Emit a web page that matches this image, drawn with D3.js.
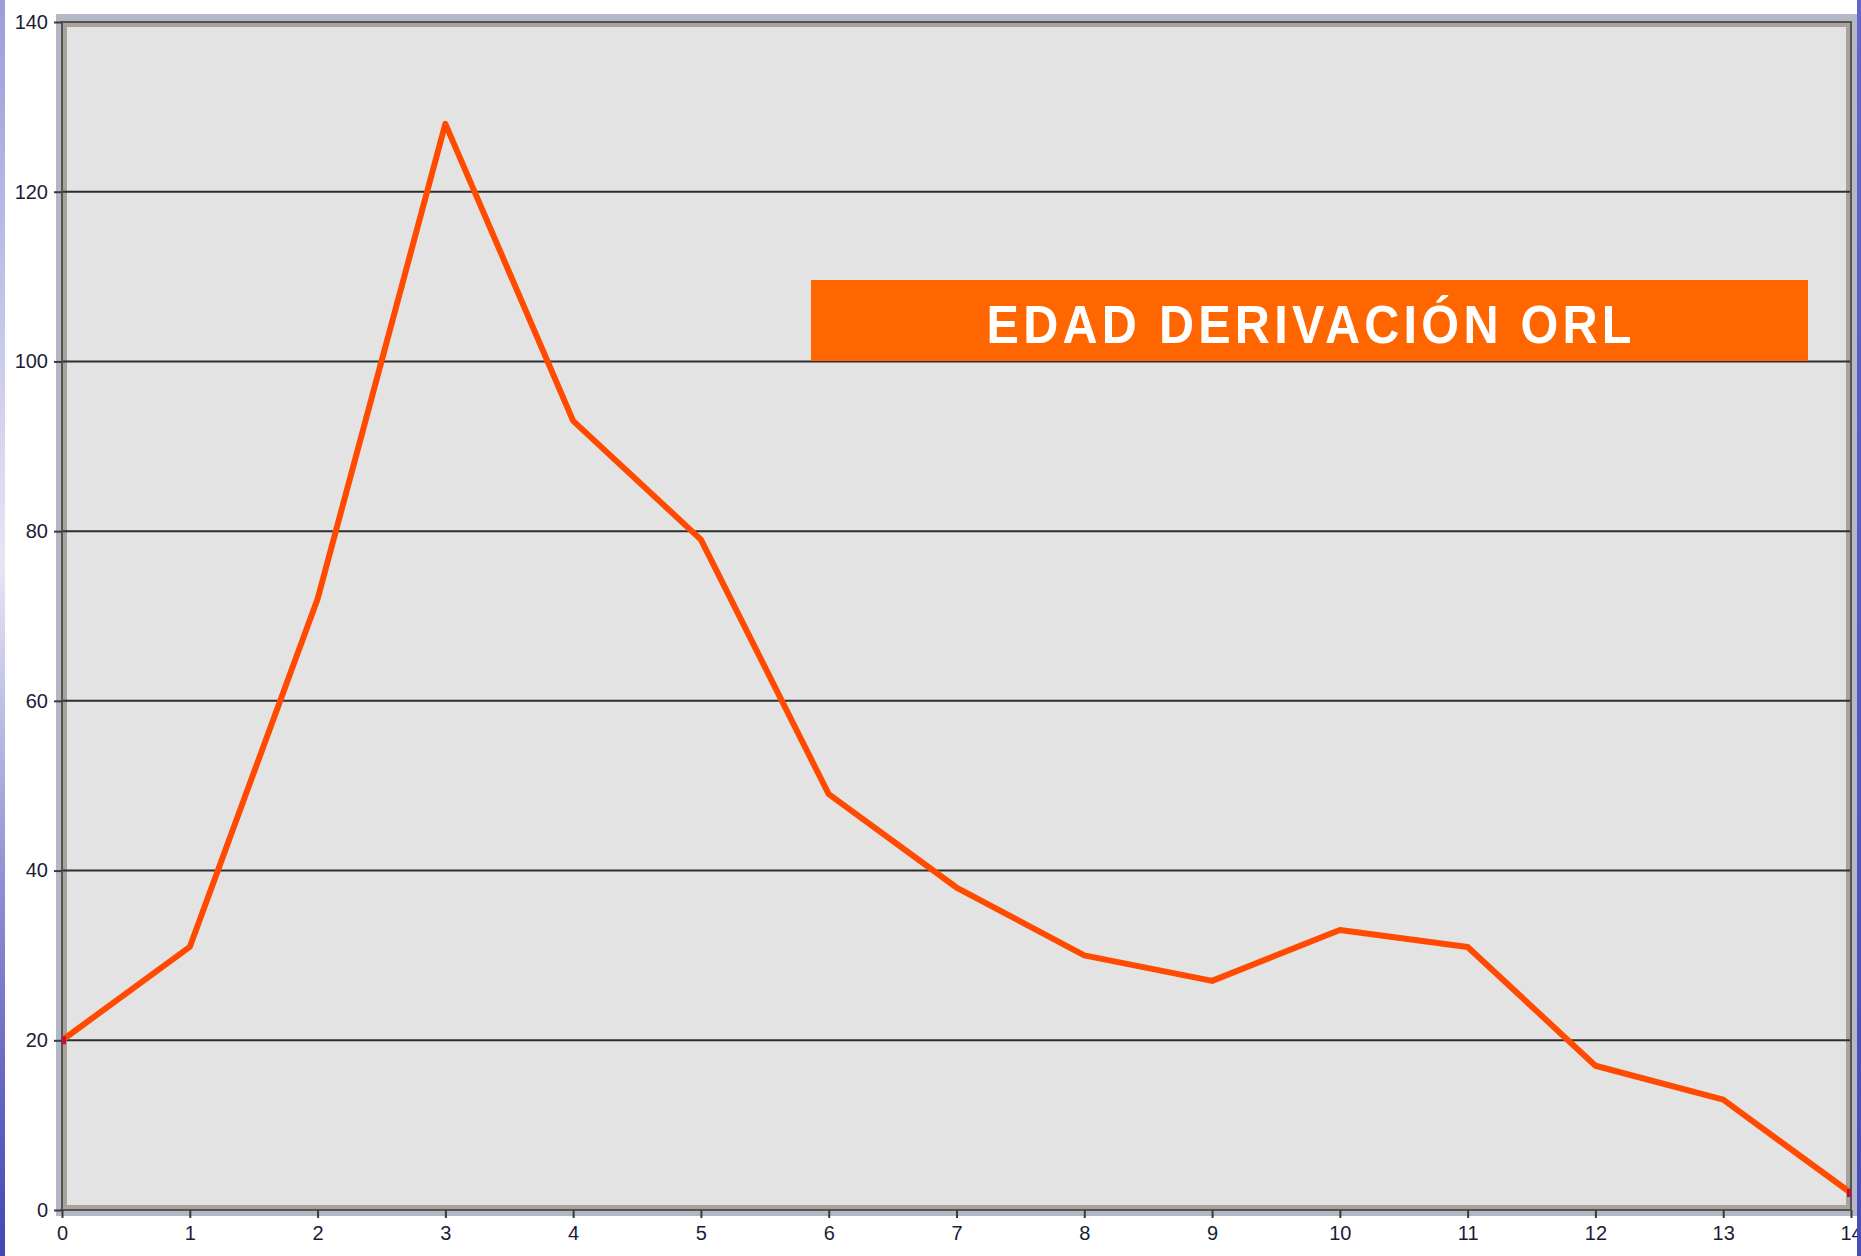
<!DOCTYPE html>
<html>
<head>
<meta charset="utf-8">
<script src="https://cdn.jsdelivr.net/npm/d3@7"></script>
<style>
html,body{margin:0;padding:0;background:#fff;}
svg{display:block;}
</style>
</head>
<body>
<script>
// ---- data ----
const ages = [0,1,2,3,4,5,6,7,8,9,10,11,12,13,14];
const counts = [20,31,72,128,93,79,49,38,30,27,33,31,17,13,2];
const yTicks = [0,20,40,60,80,100,120,140];
const titleText = "EDAD DERIVACIÓN ORL";

const W = 1861, H = 1256;
const pL = 62, pR = 1851, pT = 22, pB = 1210;

const svg = d3.select("body").append("svg").attr("width", W).attr("height", H);

const defs = svg.append("defs");
const lg = defs.append("linearGradient").attr("id","lstrip").attr("x1",0).attr("x2",0).attr("y1",0).attr("y2",1);
lg.append("stop").attr("offset","0%").attr("stop-color","#9c9cdc");
lg.append("stop").attr("offset","45%").attr("stop-color","#e6e6f4");
lg.append("stop").attr("offset","70%").attr("stop-color","#9090d4");
lg.append("stop").attr("offset","100%").attr("stop-color","#4444b4");
const rg = defs.append("linearGradient").attr("id","rstrip").attr("x1",0).attr("x2",0).attr("y1",0).attr("y2",1);
rg.append("stop").attr("offset","0%").attr("stop-color","#6464cc");
rg.append("stop").attr("offset","100%").attr("stop-color","#4a4ab8");

const x = d3.scaleLinear().domain([0,14]).range([pL, pR]);
const y = d3.scaleLinear().domain([0,140]).range([pB, pT]);

// outer light frame
svg.append("rect").attr("x",pL-6).attr("y",pT-8).attr("width",pR-pL+12).attr("height",pB-pT+14)
  .attr("fill","#b3b7c6");
// plot background with bevel band
svg.append("rect").attr("x",pL).attr("y",pT).attr("width",pR-pL).attr("height",pB-pT)
  .attr("fill","#a7a29b");
svg.append("rect").attr("x",pL+5).attr("y",pT+5).attr("width",pR-pL-10).attr("height",pB-pT-10)
  .attr("fill","#e3e3e3");

// gridlines
svg.append("g").selectAll("line").data(yTicks.filter(d=>d>0 && d<140)).join("line")
  .attr("x1",pL).attr("x2",pR).attr("y1",d=>y(d)).attr("y2",d=>y(d))
  .attr("stroke","#2e2e2e").attr("stroke-width",2);

// dark border
svg.append("rect").attr("x",pL).attr("y",pT).attr("width",pR-pL).attr("height",pB-pT)
  .attr("fill","none").attr("stroke","#56544e").attr("stroke-width",2);

// axes
const yAxis = d3.axisLeft(y).tickValues(yTicks).tickSize(8).tickPadding(6).tickSizeOuter(0);
const gy = svg.append("g").attr("transform",`translate(${pL},0)`).call(yAxis);
const xAxis = d3.axisBottom(x).tickValues(ages).tickSize(8).tickPadding(8).tickSizeOuter(0);
const gx = svg.append("g").attr("transform",`translate(0,${pB})`).call(xAxis);
[gy,gx].forEach(g=>{
  g.select(".domain").remove();
  g.selectAll(".tick line").attr("stroke","#3a3a3a").attr("stroke-width",2);
  g.selectAll(".tick text").attr("fill","#1c1c38")
    .style("font-family","'Liberation Sans', Arial, sans-serif").style("font-size","20px");
});

// clip for line
defs.append("clipPath").attr("id","plotclip").append("rect")
  .attr("x",pL).attr("y",pT).attr("width",pR-pL).attr("height",pB-pT);

const pts = ages.map((a,i)=>({a, v:counts[i]}));
const line = d3.line().x(d=>x(d.a)).y(d=>y(d.v));
const gl = svg.append("g").attr("clip-path","url(#plotclip)");
gl.append("path").datum(pts).attr("d",line).attr("fill","none")
  .attr("stroke","#ff4a00").attr("stroke-width",6).attr("stroke-linejoin","round");
gl.selectAll("rect.m").data([pts[0], pts[pts.length-1]]).join("rect")
  .attr("class","m")
  .attr("x",d=>x(d.a)-4).attr("y",d=>y(d.v)-4).attr("width",8).attr("height",8)
  .attr("fill","#c0103c");

// side strips (drawn last, over the cut "14" label as in the reference)
svg.append("rect").attr("x",0).attr("y",0).attr("width",5).attr("height",H).attr("fill","url(#lstrip)");
svg.append("rect").attr("x",1857).attr("y",0).attr("width",4).attr("height",H).attr("fill","url(#rstrip)");

// title box
svg.append("rect").attr("x",811).attr("y",280).attr("width",997).attr("height",81).attr("fill","#ff6600");
const sx = 0.9;
svg.append("g").attr("transform",`translate(1309,343) scale(${sx},1)`)
  .append("text").attr("x",0).attr("y",0).attr("text-anchor","middle")
  .attr("fill","#fff").style("font-family","'Liberation Sans',Arial,sans-serif")
  .style("font-weight","bold").style("font-size","54px")
  .attr("textLength",645/sx).attr("lengthAdjust","spacing")
  .text(titleText);
</script>
</body>
</html>
